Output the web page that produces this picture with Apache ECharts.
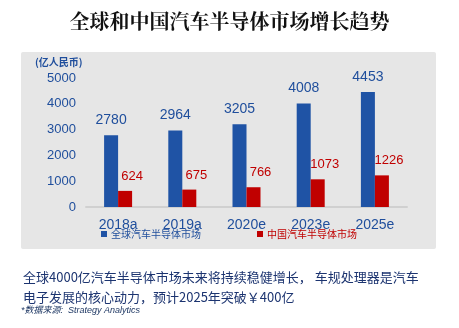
<!DOCTYPE html>
<html><head><meta charset="utf-8">
<script src="https://cdn.jsdelivr.net/npm/echarts@6/dist/echarts.min.js"></script>
<style>html,body{margin:0;padding:0;background:#fff;}#c{width:459px;height:328px;}</style>
</head><body><div id="c"></div>
<script>
var categories = ['2018a','2019a','2020e','2023e','2025e'];
var globalValues = [2780, 2964, 3205, 4008, 4453];
var chinaValues = [624, 675, 766, 1073, 1226];
var seriesNames = ['全球汽车半导体市场','中国汽车半导体市场'];
var yMin = 0, yMax = 5000, yInterval = 1000;
var titleText = '全球和中国汽车半导体市场增长趋势';
var unitText = '(亿人民币)';
var noteLine1 = '全球4000亿汽车半导体市场未来将持续稳健增长， 车规处理器是汽车';
var noteLine2 = '电子发展的核心动力，预计2025年突破￥400亿';
var sourceText = '*数据来源:  Strategy Analytics';

var BLUE = '#1f53a5', RED = '#c00000', TXT = '#1f4e9c';
var chart = echarts.init(document.getElementById('c'), null, {renderer:'canvas'});
chart.setOption({
  animation:false,
  backgroundColor:'#ffffff',
  title:{text:titleText,left:'center',top:6,
    textStyle:{fontFamily:'"Noto Serif CJK SC","Noto Sans CJK SC",serif',fontSize:20,fontWeight:'bold',color:'#111'}},
  graphic:[
    {type:'rect',z:-10,shape:{x:21,y:52,width:415,height:197,r:2},style:{fill:'#e6e6e6'}},
    {type:'text',left:35,top:57,style:{text:unitText,fontSize:10,fontWeight:'bold',fill:TXT,fontFamily:'"Noto Sans CJK SC",sans-serif'}},
    {type:'text',left:23,top:267,style:{text:noteLine1+'\n'+noteLine2,fontSize:13,lineHeight:20,fill:'#1c3470',fontFamily:'"Noto Sans CJK SC",sans-serif'}},
    {type:'text',left:21,top:306,style:{text:sourceText,fontSize:9,fontStyle:'italic',fill:'#1f3864',fontFamily:'"Liberation Sans","Noto Sans CJK SC",sans-serif'}}
  ],
  legend:{left:96,top:224,itemWidth:6,itemHeight:6,itemGap:56,icon:'rect',
    textStyle:{fontSize:10,fontFamily:'"Noto Sans CJK SC",sans-serif',padding:[0,0,0,-1]},
    data:[{name:seriesNames[0],textStyle:{color:TXT}},{name:seriesNames[1],textStyle:{color:RED}}]},
  grid:{left:86,right:52,top:78,bottom:121},
  xAxis:{type:'category',data:categories,
    axisLine:{lineStyle:{color:'#d0d0d0',width:2}},axisTick:{show:false},
    axisLabel:{color:TXT,fontSize:14,margin:11,fontFamily:'"Liberation Sans",Arial,sans-serif'}},
  yAxis:{type:'value',min:yMin,max:yMax,interval:yInterval,
    splitLine:{show:false},axisLine:{show:false},axisTick:{show:false},
    axisLabel:{color:TXT,fontSize:13,margin:10,formatter:function(v){return String(v);},fontFamily:'"Liberation Sans",Arial,sans-serif'}},
  series:[
    {name:seriesNames[0],type:'bar',data:globalValues,barWidth:14,barGap:'0%',
      itemStyle:{color:BLUE},
      label:{show:true,position:'top',distance:8,color:TXT,fontSize:14,fontFamily:'"Liberation Sans",Arial,sans-serif'}},
    {name:seriesNames[1],type:'bar',data:chinaValues,barWidth:14,
      itemStyle:{color:RED},
      label:{show:true,position:'top',distance:8,offset:[7,0],color:RED,fontSize:13,fontFamily:'"Liberation Sans",Arial,sans-serif'}}
  ]
});
</script></body></html>
